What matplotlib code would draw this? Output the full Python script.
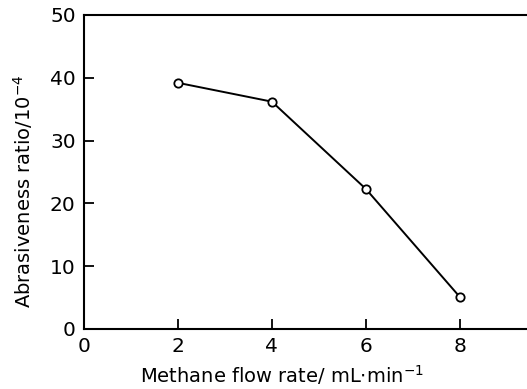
import matplotlib
matplotlib.use("Agg")
import matplotlib.pyplot as plt

# data
flow = [2, 4, 6, 8]
ratio = [39.2, 36.2, 22.3, 5.1]
xticks = [0, 2, 4, 6, 8]
yticks = [0, 10, 20, 30, 40, 50]

plt.rcParams['font.family'] = ['DejaVu Sans']

fig = plt.figure(figsize=(5.27, 3.89), dpi=100)
ax = fig.add_axes([84/527, 1 - 329/389, 1 - 84/527, (329 - 15)/389])

ax.plot(flow, ratio, color='black', lw=1.4, marker='o', ms=6,
        mfc='white', mec='black', mew=1.3)

ax.set_xlim(0, 9.43)
ax.set_ylim(0, 50)
ax.set_xticks(xticks)
ax.set_yticks(yticks)
ax.tick_params(direction='in', length=7, width=1.3, labelsize=14.5, pad=6)

ax.spines['right'].set_visible(False)
for s in ['left', 'bottom', 'top']:
    ax.spines[s].set_linewidth(1.5)

ax.set_xlabel("Methane flow rate/ mL$\\cdot$min$^{-1}$", fontsize=14)
ax.set_ylabel("Abrasiveness ratio/10$^{-4}$", fontsize=14)
ax.xaxis.set_label_coords(0.447, -0.108)
ax.yaxis.set_label_coords(-0.11, 0.44)

fig.savefig("out.png", dpi=100)
